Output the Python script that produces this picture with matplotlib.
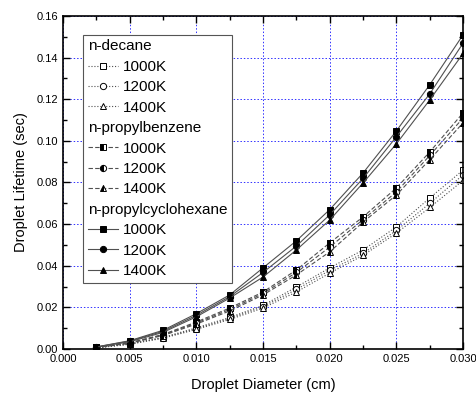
import matplotlib
matplotlib.use("Agg")
import matplotlib.pyplot as plt
from matplotlib.lines import Line2D
from matplotlib.ticker import MultipleLocator

plt.rcParams['font.family'] = ['Liberation Sans', 'DejaVu Sans']

# droplet diameter (cm)
diam = [0.0025, 0.005, 0.0075, 0.01, 0.0125, 0.015, 0.0175, 0.02,
        0.0225, 0.025, 0.0275, 0.03]

# droplet lifetime (sec)
dec_1000 = [0.0006, 0.0025, 0.0056, 0.0102, 0.0152, 0.021, 0.0298, 0.039,
            0.0476, 0.0587, 0.0726, 0.086]
dec_1200 = [0.0006, 0.0024, 0.0054, 0.0098, 0.0147, 0.0204, 0.0286, 0.0378,
            0.046, 0.057, 0.070, 0.0837]
dec_1400 = [0.0005, 0.0023, 0.0052, 0.0094, 0.0142, 0.0197, 0.0274, 0.0365,
            0.045, 0.0557, 0.068, 0.081]
benz_1000 = [0.0008, 0.003, 0.007, 0.013, 0.0197, 0.0274, 0.038, 0.051,
             0.0635, 0.0774, 0.0947, 0.1135]
benz_1200 = [0.0007, 0.0029, 0.0068, 0.0125, 0.019, 0.0267, 0.0368, 0.049,
             0.0622, 0.0755, 0.093, 0.111]
benz_1400 = [0.0007, 0.0028, 0.0065, 0.012, 0.0183, 0.026, 0.0356, 0.0467,
             0.061, 0.074, 0.091, 0.1087]
cyc_1000 = [0.001, 0.004, 0.009, 0.017, 0.026, 0.039, 0.052, 0.067,
            0.0846, 0.1048, 0.127, 0.151]
cyc_1200 = [0.001, 0.0038, 0.0085, 0.0162, 0.0252, 0.0368, 0.0495, 0.0645,
            0.082, 0.102, 0.1226, 0.147]
cyc_1400 = [0.0009, 0.0035, 0.008, 0.0155, 0.0245, 0.0346, 0.0476, 0.062,
            0.0798, 0.0986, 0.1197, 0.142]

temps = ['1000K', '1200K', '1400K']
fuels = ['n-decane', 'n-propylbenzene', 'n-propylcyclohexane']
series = [[dec_1000, dec_1200, dec_1400],
          [benz_1000, benz_1200, benz_1400],
          [cyc_1000, cyc_1200, cyc_1400]]

styles = [':', (0, (4, 2)), '-']
fills = ['none', 'left', 'full']
markers = ['s', 'o', '^']

fig = plt.figure(figsize=(4.77, 3.98), dpi=100)
ax = fig.add_axes([0.132, 0.123, 0.839, 0.837])

handles = []
labels = []
for i, fuel in enumerate(fuels):
    handles.append(Line2D([], [], linestyle='none'))
    labels.append(fuel)
    for j, t in enumerate(temps):
        kw = dict(color='#505050', lw=0.8, ls=styles[i], marker=markers[j],
                  ms=4.5, mec='black', mew=0.7)
        if fills[i] == 'none':
            kw.update(mfc='white')
        elif fills[i] == 'left':
            kw.update(mfc='black', fillstyle='left', markerfacecoloralt='white')
        else:
            kw.update(mfc='black')
        ln, = ax.plot(diam, series[i][j], **kw)
        handles.append(ln)
        labels.append(t)

ax.set_xlim(0, 0.03)
ax.set_ylim(0, 0.16)
ax.xaxis.set_major_locator(MultipleLocator(0.005))
ax.xaxis.set_minor_locator(MultipleLocator(0.0025))
ax.yaxis.set_major_locator(MultipleLocator(0.02))
ax.yaxis.set_minor_locator(MultipleLocator(0.01))
ax.xaxis.set_major_formatter(plt.FormatStrFormatter('%.3f'))
ax.yaxis.set_major_formatter(plt.FormatStrFormatter('%.2f'))
ax.tick_params(which='both', direction='in', top=True, right=True,
               labelsize=8, width=1)
ax.tick_params(which='major', length=5)
ax.tick_params(which='minor', length=3)
ax.grid(True, which='major', color='#3030ff', ls=(0, (1.5, 2)), lw=0.7)
for s in ax.spines.values():
    s.set_linewidth(1.2)

ax.set_xlabel('Droplet Diameter (cm)', fontsize=10.5, labelpad=10)
ax.set_ylabel('Droplet Lifetime (sec)', fontsize=10.5, labelpad=6)

leg = ax.legend(handles, labels, loc='upper left',
                bbox_to_anchor=(0.05, 0.943), borderaxespad=0,
                fontsize=11, labelspacing=0.42, handlelength=2.0,
                handletextpad=0.3, borderpad=0.3, fancybox=False,
                framealpha=1, edgecolor='#555555')
leg.get_frame().set_linewidth(0.8)

# group headers: drop the handle so the text starts at the left edge
rows = leg._legend_handle_box.get_children()[0].get_children()
for row, lab in zip(rows, labels):
    if lab in fuels:
        row.get_children()[0].width = 0
        row.sep = 0

fig.savefig('out.png', dpi=100)
